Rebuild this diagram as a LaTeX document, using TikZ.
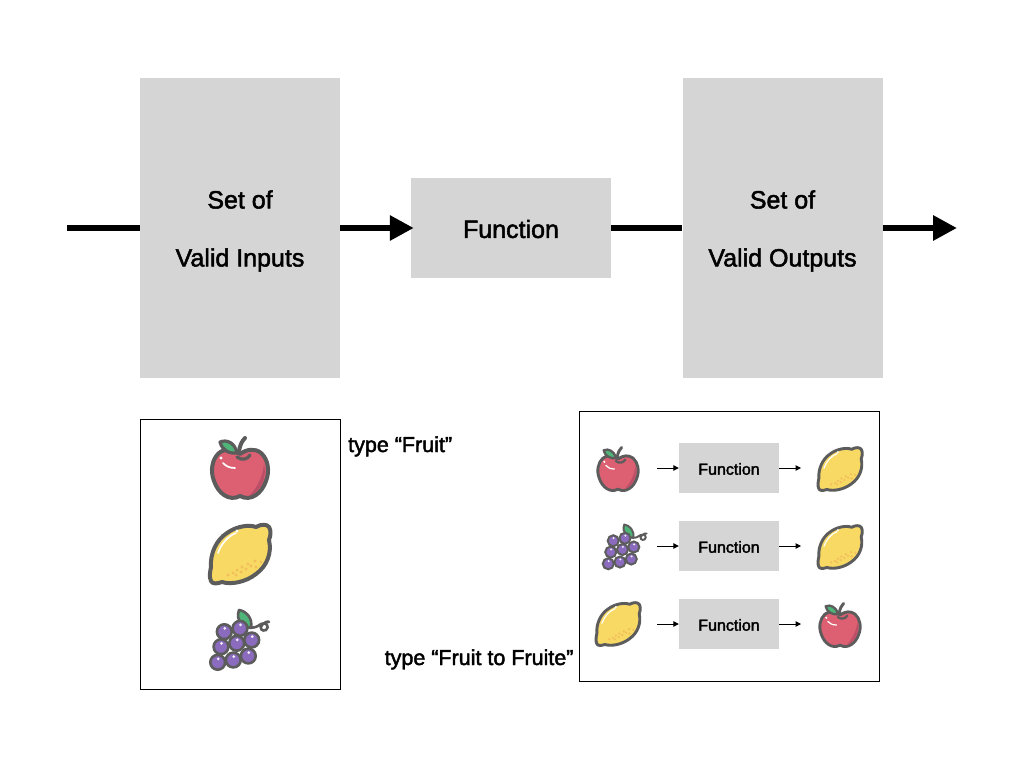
\documentclass[tikz,border=0pt]{standalone}
\usepackage{fontspec}
\setmainfont{Liberation Sans}
\newfontfamily\medfont[FakeBold=2]{Liberation Sans}
\usetikzlibrary{arrows.meta}
\definecolor{boxgray}{HTML}{D5D5D5}
\definecolor{ink}{HTML}{5C5C5C}
\definecolor{applered}{HTML}{DC6072}
\definecolor{appledark}{HTML}{BC4F68}
\definecolor{leafgreen}{HTML}{4FB478}
\definecolor{lemonyellow}{HTML}{F8D964}
\definecolor{lemondot}{HTML}{F2BE5C}
\definecolor{grapepurple}{HTML}{8A6BBE}
\newcommand{\dn}[2]{\raisebox{-#1pt}[\height][\depth]{#2}}
\tikzset{
  graybox/.style={fill=boxgray,draw=none,minimum width=200pt,inner sep=0pt,align=center,font=\medfont\fontsize{25}{58}\selectfont},
  smallbox/.style={fill=boxgray,draw=none,minimum width=100pt,minimum height=50pt,inner sep=0pt,font=\medfont\fontsize{16}{19}\selectfont},
  framebox/.style={draw=black,line width=0.8pt,fill=white,inner sep=0pt},
  biglink/.style={line width=6pt,draw=black},
  bigarrow/.style={biglink,-{Triangle[length=24pt,width=24pt]}},
  smallarrow/.style={line width=1pt,draw=black,-{Triangle[length=5.5pt,width=5.5pt]}},
  caption/.style={inner sep=0pt,anchor=base west,font=\medfont\fontsize{21.5}{25}\selectfont},
}
\newcommand{\drawapple}[3]{%
\begin{scope}[shift={(#1,#2)},scale=#3]
  \pgfmathsetmacro{\lw}{4*#3}
  \path[fill=applered,draw=ink,line width=\lw pt,line join=round]
    (0,-14) .. controls (-7,-19) and (-15,-20) .. (-21,-15)
    .. controls (-28,-9) and (-30,3) .. (-26,13)
    .. controls (-22,25) and (-11,34) .. (0,28)
    .. controls (11,34) and (22,25) .. (26,13)
    .. controls (30,3) and (28,-9) .. (21,-15)
    .. controls (15,-20) and (7,-19) .. (0,-14) -- cycle;
  \path[fill=appledark]
    (24,-4) .. controls (27,8) and (22,24) .. (9,28)
    .. controls (17,20) and (23,8) .. (24,-4) -- cycle;
  \path[draw=ink,line width=\lw pt,line cap=round] (-1,-17) .. controls (0,-23) and (2,-27) .. (5,-30);
  \path[draw=ink,line width=0.8*\lw pt,line cap=round] (-3,-11) .. controls (2,-7) and (8,-9) .. (10,-13);
  \path[fill=leafgreen,draw=ink,line width=0.8*\lw pt,line join=round]
    (-20,-26) .. controls (-13,-29) and (-5,-25) .. (-3,-15)
    .. controls (-11,-14) and (-18,-18) .. (-20,-26) -- cycle;
  \path[draw=white,line width=1.7*#3 pt,line cap=round] (-17,-5) .. controls (-14,-2) and (-11,0) .. (-5,0);
  \path[fill=white] (-19,-10) circle[radius=1.7];
\end{scope}}
\newcommand{\drawlemon}[3]{%
\begin{scope}[shift={(#1,#2)},scale=#3]
  \pgfmathsetmacro{\lw}{4*#3}
  \path[fill=lemonyellow,draw=ink,line width=\lw pt,line join=round]
    (16,-27) .. controls (21,-30) and (27,-30) .. (29,-27)
    .. controls (31,-24) and (31,-19) .. (29,-14)
    .. controls (32,-1) and (27,12) .. (16,20)
    .. controls (6,28) and (-9,31) .. (-18,28)
    .. controls (-23,30) and (-28,30) .. (-29,27)
    .. controls (-31,23) and (-30,18) .. (-29,13)
    .. controls (-30,0) and (-24,-14) .. (-13,-21)
    .. controls (-5,-27) and (8,-30) .. (16,-27) -- cycle;
  \path[draw=white,line width=1.6*#3 pt,line cap=round] (-22,-1) .. controls (-19,-10) and (-12,-18) .. (-4,-21);
  \path[fill=white] (-3,-23) circle[radius=1.6];
  \foreach \dx/\dy in {-12/21,-7/19,-3/16,2/13,8/10,15/7,-4/21,1/18,6/15,11/12,16/13,21/8}
    \path[fill=lemondot] (\dx,\dy) circle[radius=1.7];
\end{scope}}
\newcommand{\drawgrapes}[3]{%
\begin{scope}[shift={(#1,#2)},scale=#3]
  \pgfmathsetmacro{\lw}{2.6*#3}
  \path[draw=ink,line width=\lw pt,line cap=round]
    (9,-13) .. controls (14,-11) and (18,-14) .. (21,-16)
    .. controls (26,-19) and (30,-13) .. (26,-10)
    .. controls (22,-8) and (19,-12) .. (22,-15)
    .. controls (25,-18) and (28,-19) .. (29,-18);
  \path[fill=leafgreen,draw=ink,line width=\lw pt,line join=round]
    (-1,-30) .. controls (6,-29) and (13,-22) .. (11,-12)
    .. controls (4,-13) and (-5,-19) .. (-1,-30) -- cycle;
  \foreach \gx/\gy in {-15.7/-8.3,0/-11.7,-19/6.7,-3.3/3.3,11.7/0,-22.3/22.3,-6.7/20,8.3/16}{
    \path[fill=grapepurple,draw=ink,line width=\lw pt] (\gx,\gy) circle[radius=7.4];
    \path[fill=white,opacity=0.9] (\gx+0.5,\gy-3.4) circle[radius=1.5];
  }
\end{scope}}
\begin{document}
\begin{tikzpicture}[x=1pt,y=-1pt]
\useasboundingbox[fill=white] (0,0) rectangle (1024,768);
% top row
\node[graybox,minimum height=300pt] (inputs) at (240,228) {\dn{3}{Set of}\\\dn{3}{Valid Inputs}};
\node[graybox,minimum height=100pt] (func) at (511,228) {\dn{1}{Function}};
\node[graybox,minimum height=300pt] (outputs) at (782.5,228) {\dn{3}{Set of}\\\dn{3}{Valid Outputs}};
\coordinate (startpt) at (67,228);
\coordinate (endpt) at (957,228);
\draw[biglink] (startpt) -- (inputs.west);
\draw[bigarrow,shorten >=-3pt] (inputs.east) -- (func.west);
\draw[biglink] (func.east) -- (outputs.west);
\draw[bigarrow] (outputs.east) -- (endpt);
% lower left frame
\node[framebox,minimum width=200pt,minimum height=270pt] (fruitframe) at (240,554) {};
\drawapple{240}{468}{1}
\drawlemon{240}{554}{1}
\drawgrapes{240}{640}{1}
\node[caption] (fruitlabel) at (348,452) {type “Fruit”};
% lower right frame
\node[framebox,minimum width=300pt,minimum height=270pt] (mapframe) at (729,546) {};
\node[caption] (maplabel) at (384.5,665) {type “Fruit to Fruite”};
\node[smallbox] (f1) at (729,468) {\dn{1}{Function}};
\node[smallbox] (f2) at (729,546) {\dn{1}{Function}};
\node[smallbox] (f3) at (729,624) {\dn{1}{Function}};
\drawapple{618}{469}{0.72}
\drawlemon{840}{469}{0.73}
\drawgrapes{625}{547}{0.75}
\drawlemon{840}{547}{0.73}
\drawlemon{618}{624}{0.73}
\drawapple{840}{625}{0.72}
\foreach \rowy/\fn in {468/f1,546/f2,624/f3}{
  \coordinate (in\fn) at (657,\rowy);
  \coordinate (out\fn) at (801,\rowy);
  \draw[smallarrow] (in\fn) -- (\fn.west);
  \draw[smallarrow] (\fn.east) -- (out\fn);
}
\end{tikzpicture}
\end{document}
